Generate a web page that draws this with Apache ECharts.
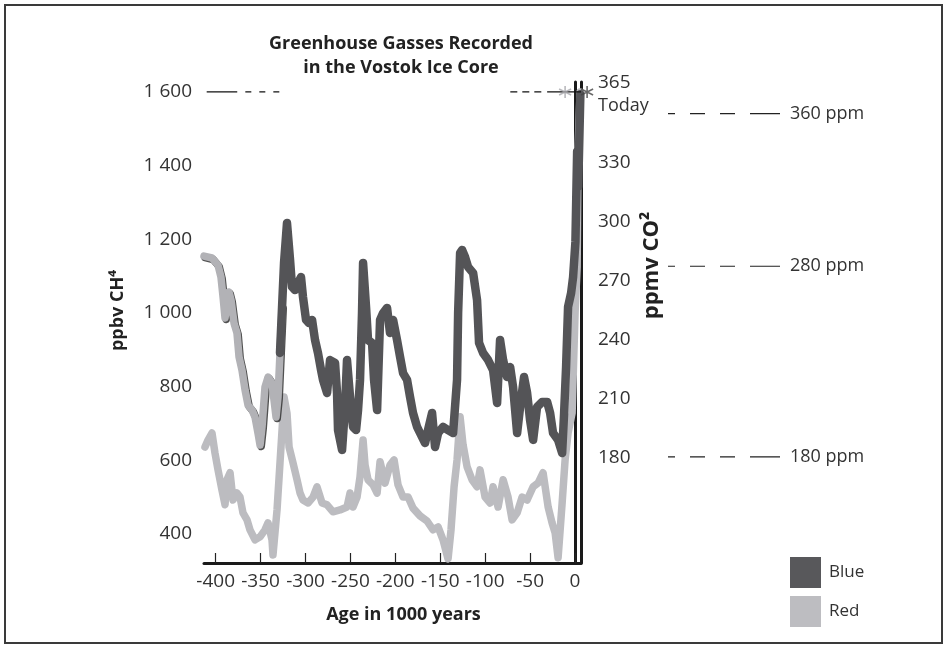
<!DOCTYPE html>
<html><head><meta charset="utf-8">
<script src="https://cdn.jsdelivr.net/npm/echarts@6/dist/echarts.min.js"></script>
<style>
html,body{margin:0;padding:0;background:#fff}
#c{width:947px;height:648px}
#frame{position:absolute;left:4px;top:4px;width:939px;height:640px;box-sizing:border-box;border:2px solid #3a3a3a;pointer-events:none}
</style>
</head><body><div id="c"></div><div id="frame"></div>
<script>
// CO2 (ppmv, right axis) – "Blue"
const co2Age=[-413,-404.1,-397.4,-394.1,-391.8,-389.6,-385.2,-382.9,-379.6,-376.3,-374,-370.7,-367.3,-364,-359.5,-356.2,-352.9,-350.6,-348.4,-345.1,-341.7,-337.3,-332.8,-330.6,-328.4,-326.1,-323.9,-320.6,-317.2,-315,-311.7,-308.3,-305,-302.8,-299.4,-296.1,-292.7,-289.4,-286.1,-282.7,-280.5,-276,-272.7,-267.1,-264.9,-263.8,-259.3,-256,-253.8,-250.4,-247.1,-243.7,-241.5,-239.3,-237.1,-235.9,-232.6,-230.4,-225.9,-223.7,-220.3,-217,-213.6,-209.2,-205.9,-202.5,-198.1,-194.7,-191.4,-186.9,-183.6,-180.3,-175.8,-172.5,-166.9,-163.6,-159.1,-155.8,-152.4,-146.9,-141.3,-135.7,-131.3,-130.1,-127.9,-125.7,-122.4,-119,-113.4,-109,-106.8,-102.3,-96.7,-91.2,-86.7,-83.4,-80,-75.6,-72.2,-68.9,-64.4,-61.1,-56.7,-53.3,-50,-46.6,-42.2,-36.6,-31,-27.7,-24.4,-18.8,-14.3,-12.1,-9.9,-7.7,-4.3,-2.1,0.5,2.4,3.6,6];
const co2Ppm=[282.7,281.7,278.1,272,261.9,251.2,264.4,260.3,248.6,243.6,231.4,224.7,214.6,206.9,204.4,200.8,192.7,186.6,195.8,216.1,221.2,218.1,200.8,211,233.4,256.8,279.2,299.5,280.7,267,265.4,269,272,261.9,250.2,248.6,250.2,240,233.4,224.7,219.7,213.1,229.8,228.3,213.1,194.2,184.1,205.9,229.8,211,195.8,194.2,204.4,219.7,253.7,279.2,256.8,240,238.5,219.7,204.4,250.2,253.7,256.3,243.6,250.2,240,231.4,223.2,219.7,211,202.9,195.8,192.7,187.6,194.2,202.9,185.6,192.7,195.8,194.2,192.7,219.7,253.7,284.2,285.8,282.2,277.1,274.1,260.3,238.5,233.4,229.8,224.7,208,240,229.8,221.2,226.3,216.1,192.7,205.9,221.2,213.1,199.3,189.2,205.9,208.5,208.5,202.9,192.7,189.2,182.5,202.9,226.3,256.8,263.9,272,290,336,318,365];
// age where the printed CO2 curve changes from light to dark tone
const co2ToneSplit=-327;
// CH4 (ppbv, left axis) – "Red"
const ch4Age=[-411.9,-408.5,-404.1,-400.8,-397.4,-393,-389.6,-387.4,-384,-380.7,-376.3,-372.9,-369.6,-365.1,-361.8,-356.2,-350.6,-345.1,-341.7,-337.3,-336.2,-331.7,-328.4,-326.1,-323.9,-320.6,-318.3,-313.9,-309.4,-306.1,-302.8,-297.2,-291.6,-287.2,-281.6,-276,-269.4,-261.6,-253.8,-250.4,-247.1,-242.6,-239.3,-235.9,-233.7,-230.4,-224.8,-220.3,-217,-211.4,-205.9,-201.4,-197,-191.4,-185.8,-180.3,-172.5,-164.7,-158,-152.4,-146.9,-141.3,-138,-134.6,-131.3,-127.9,-124.6,-120.1,-114.6,-109,-105.7,-100.1,-94.5,-91.2,-85.6,-80,-74.5,-70,-64.4,-58.9,-53.3,-46.6,-41.1,-35.5,-29.9,-25.5,-22.1,-18.8,-14.3,-11,-7.7,-3.2,0.1,2.4,3.5,5.7];
const ch4Ppb=[636,655,674,620,574,519,479,547,566,492,511,500,457,438,411,384,392,411,430,384,343,465,593,682,772,728,636,593,547,511,492,484,500,528,484,479,460,465,473,511,473,500,555,655,587,547,533,511,596,538,587,601,533,500,500,470,449,435,411,419,384,332,411,528,601,718,642,582,547,528,574,500,484,528,473,547,500,438,457,500,492,528,538,566,473,430,403,335,484,601,674,728,1000,1125,1451,1600];

const xTicks=[-400,-350,-300,-250,-200,-150,-100,-50,0];
const leftTicks=[400,600,800,1000,1200,1400,1600];
const rightTicks=[180,210,240,270,300,330,365];
const annoLevels=[360,280,180];
const annoLabels=['360 ppm','280 ppm','180 ppm'];
// "today" reference at 1600 ppbv
const refLevel=1600;
const refSolidLeft=[-410,-376];
const refDashLeft=[-367,-327];
const refDashRight=[-72,-35];
const refSolidRight=[-31,6.7];
const starAges=[-11,13.5];

const FONT='"Open Sans", "Noto Sans", sans-serif';
const star='path://M0,-10L0,10M-8.66,-5L8.66,5M-8.66,5L8.66,-5';

const co2Pairs=co2Age.map((a,i)=>[a,co2Ppm[i]]);
const co2Light=[], co2Dark=[];
co2Pairs.forEach((p,i)=>{
  const next=co2Pairs[i+1], prev=co2Pairs[i-1];
  if(p[0]<=co2ToneSplit || (prev && prev[0]<=co2ToneSplit)) co2Light.push(p);
  if(p[0]>=co2ToneSplit || (next && next[0]>=co2ToneSplit)) co2Dark.push(p);
});

const refLine=(xs,type)=>({type:'line',xAxisIndex:0,yAxisIndex:0,silent:true,showSymbol:false,
  data:xs.map(x=>[x,refLevel]),lineStyle:{color:'#111',width:1.3,type:type},z:4});

const annoSeries=annoLevels.map((lv,i)=>({type:'line',xAxisIndex:1,yAxisIndex:2,silent:true,showSymbol:false,
  data:[[0,lv],[1,lv]],
  lineStyle:{color:'#222',width:1.2,type:[7,15,15,15,15,15,30]},
  markPoint:{symbol:'circle',symbolSize:0,silent:true,
    data:[{coord:[1,lv],label:{show:true,position:'right',distance:10,formatter:annoLabels[i],fontSize:18,color:'#333',fontFamily:FONT}}]}}));

const chart=echarts.init(document.getElementById('c'));
chart.setOption({
  animation:false,
  backgroundColor:'#fff',
  title:{text:'Greenhouse Gasses Recorded\nin the Vostok Ice Core',left:396,top:27,textAlign:'center',
    textStyle:{fontFamily:FONT,fontWeight:'bold',fontSize:18,lineHeight:24,color:'#222'}},
  legend:{orient:'vertical',left:790,top:557,padding:0,itemWidth:31,itemHeight:31,itemGap:8,
    textStyle:{fontFamily:FONT,fontSize:17,color:'#333',padding:[0,0,0,3]},
    data:[{name:'Blue',icon:'rect',itemStyle:{color:'#58585b'}},{name:'Red',icon:'rect',itemStyle:{color:'#bdbdc1'}}]},
  grid:[{left:204,right:366,top:82,bottom:85},{left:668,right:167,top:82,bottom:85}],
  xAxis:[{type:'value',gridIndex:0,min:-413,max:6.7,
      axisLine:{lineStyle:{color:'#1a1a1a',width:3}},
      axisTick:{show:true,inside:true,length:10,customValues:xTicks,lineStyle:{color:'#222',width:1.2}},
      axisLabel:{customValues:xTicks,fontSize:19,color:'#333',margin:9,fontFamily:FONT},
      splitLine:{show:false},
      name:'Age in 1000 years',nameLocation:'middle',nameGap:43,
      nameTextStyle:{fontFamily:FONT,fontWeight:'bold',fontSize:18,color:'#222',padding:[0,0,0,22]}},
    {type:'value',gridIndex:1,min:0,max:1,show:false}],
  yAxis:[{type:'value',gridIndex:0,position:'left',min:321,max:1627,
      axisLine:{show:true,lineStyle:{color:'#1a1a1a',width:3}},
      axisTick:{show:false},splitLine:{show:false},
      axisLabel:{customValues:leftTicks,fontSize:19,color:'#333',margin:12,fontFamily:FONT,
        formatter:v=>v>=1000?String(v).replace(/(\d)(\d{3})$/,'$1 $2'):String(v)},
      name:'ppbv CH⁴',nameLocation:'middle',nameGap:77,nameRotate:90,
      nameTextStyle:{fontFamily:FONT,fontWeight:'bold',fontSize:18,color:'#222',padding:[0,0,0,24]}},
    {type:'value',gridIndex:0,position:'right',min:126.6,max:371.2,
      axisLine:{show:true,lineStyle:{color:'#1a1a1a',width:3}},
      axisTick:{show:false},splitLine:{show:false},
      axisLabel:{customValues:rightTicks,fontSize:19,color:'#333',margin:17,lineHeight:23,fontFamily:FONT,
        formatter:v=>v===365?'365\n{t|Today}':String(v),
        rich:{t:{fontSize:18,color:'#333',fontFamily:FONT,lineHeight:23}}},
      name:'ppmv CO²',nameLocation:'middle',nameGap:60,nameRotate:90,nameMoveOverlap:false,
      nameTextStyle:{fontFamily:FONT,fontWeight:'bold',fontSize:22,color:'#222',padding:[0,0,0,114]}},
    {type:'value',gridIndex:1,min:124.4,max:376.6,show:false}],
  series:[
    {name:'Red',type:'line',xAxisIndex:0,yAxisIndex:0,showSymbol:false,z:2,
      data:ch4Age.map((a,i)=>[a,ch4Ppb[i]]),
      itemStyle:{color:'#bdbdc1'},
      lineStyle:{color:'#bcbcc0',width:7.5,join:'round',cap:'round'}},
    {name:'Blue',type:'line',xAxisIndex:0,yAxisIndex:1,showSymbol:false,z:3,
      data:co2Light,
      itemStyle:{color:'#58585b'},
      lineStyle:{color:'#b2b2b6',width:7.5,join:'round',cap:'round',shadowColor:'rgba(50,50,50,0.85)',shadowOffsetX:1.2,shadowOffsetY:1.5,shadowBlur:0}},
    {name:'Blue',type:'line',xAxisIndex:0,yAxisIndex:1,showSymbol:false,z:3,
      data:co2Dark,
      itemStyle:{color:'#58585b'},
      lineStyle:{color:'#545457',width:8.5,join:'round',cap:'round'}},
    refLine(refSolidLeft,'solid'),
    refLine(refDashLeft,[6,8]),
    refLine(refDashRight,[7,5]),
    refLine(refSolidRight,'solid'),
    {type:'scatter',xAxisIndex:0,yAxisIndex:0,silent:true,clip:false,z:5,symbol:star,symbolSize:12,
      data:[{value:[starAges[0],refLevel],itemStyle:{color:'none',borderColor:'#a8a8ac',borderWidth:1.6}},
            {value:[starAges[1],refLevel],itemStyle:{color:'none',borderColor:'#444',borderWidth:1.6}}]},
    ...annoSeries
  ]
});
</script></body></html>
